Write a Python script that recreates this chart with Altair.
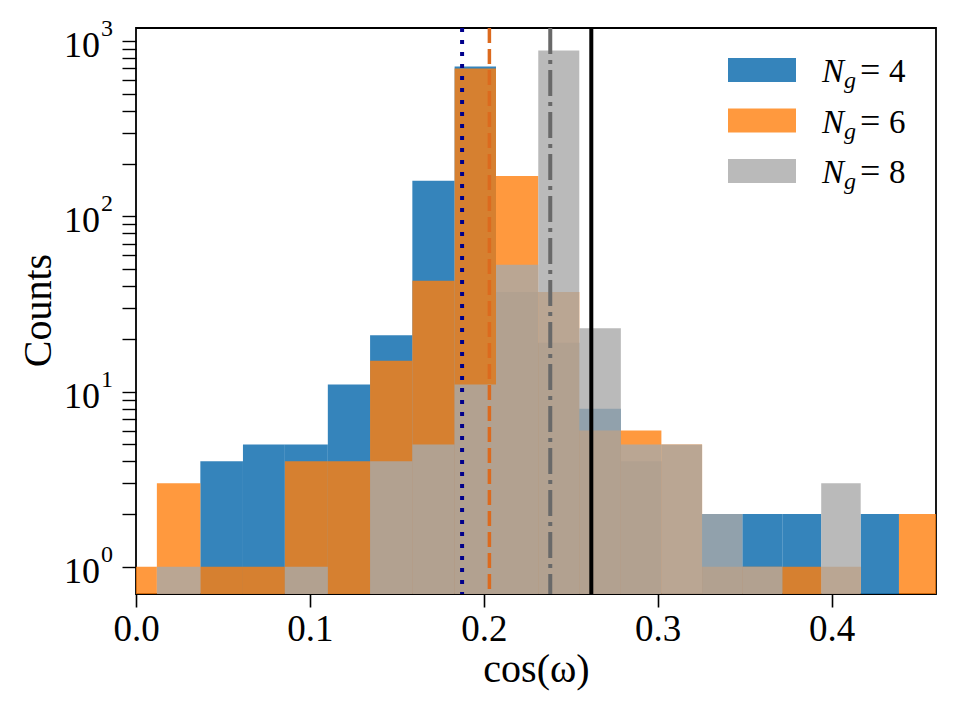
import altair as alt
import pandas as pd

# Histogram bin edges in cos(omega) (bins are uniform in omega, so they narrow to the right)
bin_edges = [-0.013, 0.012, 0.037, 0.0615, 0.0856, 0.1103, 0.1346, 0.1589, 0.1832,
             0.207, 0.2313, 0.2549, 0.2788, 0.3021, 0.3255, 0.3487, 0.3716, 0.394,
             0.4167, 0.4387, 0.461]

# Counts per bin for each number of groups
counts_ng4 = [0, 0, 4, 5, 5, 11, 21, 160, 717, 37, 19, 8, 4, 0, 2, 2, 2, 0, 2, 0]
counts_ng6 = [1, 3, 1, 1, 4, 4, 15, 43, 698, 170, 37, 6, 6, 5, 1, 1, 1, 1, 0, 2]
counts_ng8 = [0, 1, 0, 0, 1, 0, 4, 5, 11, 53, 886, 23, 5, 5, 2, 1, 0, 3, 0, 0]

series_names = ["4", "6", "8"]
series_colors = ["#1f77b4", "#ff7f0e", "#a9a9a9"]
series_opacity = [0.9, 0.8, 0.8]

# Reference lines: mean cos(omega) values
vline_x = [0.1875, 0.2032, 0.2382, 0.2618]
vline_colors = ["#00008b", "#dc6a1e", "#696969", "#000000"]
vline_dash = [[4, 8], [15, 6], [26, 6, 4, 6], []]
vline_width = [4, 3.5, 4, 4]

# Y-axis decade ticks
y_major = [1, 10, 100, 1000]
y_exponents = ["0", "1", "2", "3"]
y_ticks_all = [m * d for d in (1, 10, 100) for m in range(1, 10)] + [1000]

W, H = 800, 566
FONT = "Liberation Serif"

rows = []
for name, counts in zip(series_names, [counts_ng4, counts_ng6, counts_ng8]):
    for i, c in enumerate(counts):
        if c > 0:
            rows.append({"ng": name, "x0": bin_edges[i], "x1": bin_edges[i + 1], "count": c})
hist = pd.DataFrame(rows)

xscale = alt.Scale(domain=[0, 0.46], nice=False, zero=False)
yscale = alt.Scale(type="log", domain=[0.7, 1190], nice=False)

xaxis = alt.Axis(values=[0, 0.1, 0.2, 0.3, 0.4], format=".1f", labelFont=FONT,
                 labelFontSize=37, labelColor="black", labelPadding=4, labelFlush=False,
                 tickColor="black", tickSize=13, tickWidth=1.6, domain=False, grid=False,
                 title="cos(ω)", titleFont=FONT, titleFontSize=40, titleFontWeight="normal",
                 titleColor="black", titleX=W / 2, titleY=87, titleBaseline="alphabetic")
yaxis = alt.Axis(values=y_ticks_all, labels=False, tickColor="black", tickSize=14,
                 tickWidth=1.4, domain=False, grid=False, title="Counts", titleFont=FONT,
                 titleFontSize=40, titleFontWeight="normal", titleColor="black",
                 titleX=-86, titleY=H / 2 - 1, titleBaseline="alphabetic", titleAngle=270)

layers = []
for k, name in enumerate(series_names):
    bars = alt.Chart(hist).transform_filter(alt.datum.ng == name).mark_rect(
        color=series_colors[k], opacity=series_opacity[k], clip=True
    ).encode(
        x=alt.X("x0:Q", scale=xscale, axis=xaxis),
        x2="x1:Q",
        y=alt.Y("count:Q", scale=yscale, axis=yaxis),
        y2=alt.datum(0.5),
    )
    layers.append(bars)

for xv, col, dash, lw in zip(vline_x, vline_colors, vline_dash, vline_width):
    props = dict(color=col, strokeWidth=lw)
    if dash:
        props["strokeDash"] = dash
    rule = alt.Chart(pd.DataFrame({"x": [xv]})).mark_rule(**props).encode(
        x=alt.X("x:Q", scale=xscale), y=alt.value(0), y2=alt.value(H)
    )
    layers.append(rule)

# Decade labels 10^n on the log axis
ylab = pd.DataFrame({"v": y_major, "e": y_exponents})
layers.append(alt.Chart(ylab).mark_text(font=FONT, fontSize=36, align="right",
                                         baseline="alphabetic", dy=16, color="black").encode(
    x=alt.value(-36), y=alt.Y("v:Q", scale=yscale), text=alt.value("10")))
layers.append(alt.Chart(ylab).mark_text(font=FONT, fontSize=24, align="left",
                                         baseline="alphabetic", dy=-5, color="black").encode(
    x=alt.value(-35), y=alt.Y("v:Q", scale=yscale), text="e:N"))

# Legend: colour patch plus N_g = value
for k, name in enumerate(series_names):
    top = 30 + k * 50.5
    base = 54 + k * 50.5
    one = pd.DataFrame({"ng": [name]})
    layers.append(alt.Chart(one).mark_rect(color=series_colors[k], opacity=series_opacity[k]).encode(
        x=alt.value(592), x2=alt.value(660), y=alt.value(top), y2=alt.value(top + 24)))
    layers.append(alt.Chart(one).mark_text(font=FONT, fontSize=33, fontStyle="italic", align="left",
                                           baseline="alphabetic", color="black").encode(
        x=alt.value(686), y=alt.value(base), text=alt.value("N")))
    layers.append(alt.Chart(one).mark_text(font=FONT, fontSize=24, fontStyle="italic", align="left",
                                           baseline="alphabetic", color="black").encode(
        x=alt.value(708), y=alt.value(base + 6), text=alt.value("g")))
    layers.append(alt.Chart(one).mark_text(font=FONT, fontSize=36, align="left",
                                           baseline="alphabetic", color="black").encode(
        x=alt.value(724), y=alt.value(base), text=alt.value("=")))
    layers.append(alt.Chart(one).mark_text(font=FONT, fontSize=33, align="left",
                                           baseline="alphabetic", color="black").encode(
        x=alt.value(753), y=alt.value(base), text="ng:N"))

chart = alt.layer(*layers).properties(
    width=W, height=H,
    autosize=alt.AutoSizeParams(type="none"),
    padding={"left": 136, "top": 28, "right": 24, "bottom": 126},
    background="white",
).configure_view(stroke="black", strokeWidth=1.8)

chart.save("out.html", embed_options={"renderer": "svg", "actions": False})
